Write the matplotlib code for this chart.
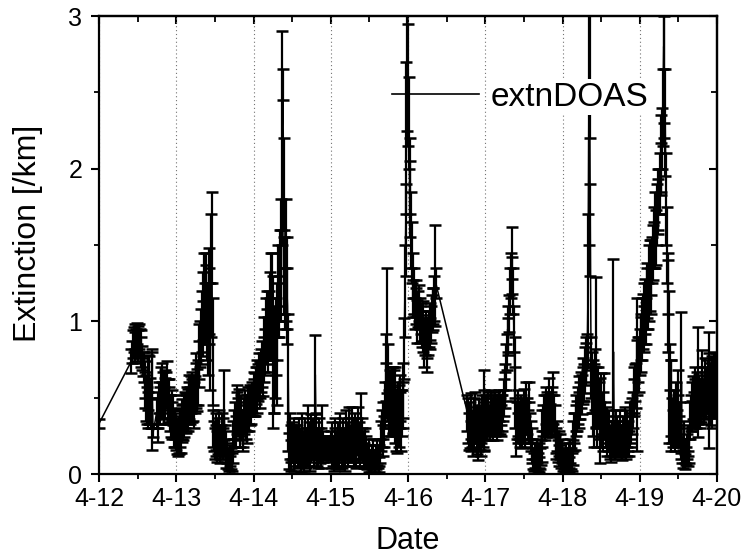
import numpy as np
import matplotlib
matplotlib.use("Agg")
import matplotlib.pyplot as plt
from matplotlib.lines import Line2D
from matplotlib.ticker import MultipleLocator

plt.rcParams['font.family'] = ['Liberation Sans', 'DejaVu Sans']

# ---------------- data ----------------
# measurement runs (days after 4-12 00:00), sampled every 0.01 day
run_start = [0.00, 0.42, 0.745, 0.76, 1.00, 2.00, 3.00, 4.00, 4.77, 5.00, 6.00, 7.00]
run_end   = [0.00, 0.70, 0.745, 0.99, 1.99, 2.99, 3.99, 4.36, 4.99, 5.99, 6.99, 8.00]
sample_step = 0.01

ext_d0 = [0.33,
          0.74, 0.80, 0.85, 0.88, 0.83, 0.90, 0.86, 0.92, 0.88, 0.84, 0.90, 0.86, 0.80, 0.85, 0.76, 0.72, 0.70, 0.62, 0.55,
          0.50, 0.45, 0.60, 0.42, 0.55, 0.48, 0.40, 0.55, 0.49, 0.27,
          0.40, 0.42, 0.35, 0.50, 0.45, 0.55, 0.48, 0.60, 0.52, 0.45, 0.58, 0.50, 0.55, 0.62, 0.48, 0.45, 0.52, 0.40, 0.38,
          0.45, 0.35, 0.42, 0.30, 0.33, 0.30]
err_d0 = [0.03,
          0.08, 0.07, 0.09, 0.08, 0.10, 0.08, 0.09, 0.07, 0.09, 0.10, 0.08, 0.09, 0.10, 0.09, 0.08, 0.08, 0.10, 0.12, 0.12,
          0.15, 0.12, 0.18, 0.12, 0.22, 0.15, 0.10, 0.25, 0.33, 0.03,
          0.10, 0.12, 0.14, 0.10, 0.12, 0.15, 0.12, 0.13, 0.15, 0.12, 0.10, 0.13, 0.12, 0.12, 0.14, 0.12, 0.10, 0.12, 0.14,
          0.10, 0.12, 0.10, 0.12, 0.10, 0.12]

ext_d1 = [0.28, 0.25, 0.22, 0.26, 0.24, 0.30, 0.28, 0.33, 0.36, 0.34, 0.38, 0.42, 0.40,
          0.40, 0.45, 0.42, 0.48, 0.50, 0.45, 0.52, 0.48, 0.55, 0.50, 0.45, 0.52, 0.58, 0.62, 0.55, 0.60, 0.72, 0.80,
          0.85, 0.90, 1.00, 0.95, 1.10, 1.20, 1.05, 1.25, 1.15, 1.00, 0.95, 1.10, 1.20, 0.90, 1.30, 1.55, 0.80,
          0.30, 0.25, 0.20, 0.28, 0.22, 0.18, 0.25, 0.30, 0.20, 0.15, 0.22, 0.28, 0.25, 0.20, 0.45, 0.22, 0.18, 0.12,
          0.15, 0.10, 0.08, 0.12, 0.06, 0.10, 0.08, 0.15,
          0.25, 0.30, 0.35, 0.28, 0.40, 0.45, 0.38, 0.42, 0.30, 0.35, 0.40, 0.32, 0.25, 0.30, 0.38, 0.42, 0.35, 0.30,
          0.40, 0.45, 0.38, 0.42, 0.48, 0.45, 0.50, 0.48]
err_d1 = [0.12, 0.12, 0.10, 0.12, 0.11, 0.12, 0.14, 0.12, 0.13, 0.12, 0.14, 0.12, 0.13,
          0.12, 0.12, 0.14, 0.12, 0.15, 0.12, 0.12, 0.14, 0.12, 0.15, 0.15, 0.12, 0.15, 0.17, 0.14, 0.15, 0.15, 0.18,
          0.15, 0.18, 0.20, 0.18, 0.22, 0.25, 0.20, 0.20, 0.22, 0.25, 0.30, 0.25, 0.28, 0.35, 0.40, 0.30, 0.35,
          0.12, 0.10, 0.10, 0.12, 0.10, 0.10, 0.12, 0.12, 0.10, 0.08, 0.10, 0.12, 0.12, 0.10, 0.23, 0.10, 0.10, 0.08,
          0.08, 0.07, 0.06, 0.07, 0.06, 0.07, 0.06, 0.08,
          0.10, 0.12, 0.12, 0.10, 0.14, 0.13, 0.12, 0.14, 0.12, 0.10, 0.12, 0.10, 0.10, 0.12, 0.12, 0.13, 0.12, 0.10,
          0.12, 0.12, 0.10, 0.10, 0.10, 0.12, 0.10, 0.10]

ext_d2 = [0.50, 0.55, 0.52, 0.58, 0.62, 0.55, 0.60, 0.65, 0.58, 0.62, 0.68, 0.72, 0.65,
          0.75, 0.85, 0.80, 0.95, 0.90, 1.00, 0.85, 1.05, 0.95, 1.10, 1.20, 1.10, 0.80, 0.70,
          0.65, 0.80, 0.90, 0.75, 1.00, 1.20, 1.10, 1.30, 1.45,
          1.30, 2.20, 2.55, 1.90, 1.30, 1.15, 1.40, 1.25, 1.10, 0.60,
          0.15, 0.25, 0.20, 0.12, 0.22, 0.18, 0.10, 0.25, 0.15, 0.20,
          0.22, 0.12, 0.18, 0.25, 0.15, 0.08, 0.20, 0.28, 0.15, 0.10,
          0.18, 0.25, 0.12, 0.20, 0.30, 0.15, 0.22, 0.10, 0.25, 0.18,
          0.20, 0.25, 0.15, 0.22, 0.65, 0.28, 0.15, 0.20, 0.12, 0.25,
          0.15, 0.20, 0.12, 0.30, 0.18, 0.15, 0.20, 0.18, 0.16, 0.20, 0.15, 0.18, 0.20, 0.16]
err_d2 = [0.12, 0.12, 0.14, 0.12, 0.13, 0.15, 0.12, 0.14, 0.15, 0.12, 0.14, 0.15, 0.14,
          0.15, 0.18, 0.15, 0.20, 0.18, 0.20, 0.18, 0.15, 0.20, 0.22, 0.25, 0.35, 0.50, 0.30,
          0.25, 0.30, 0.25, 0.30, 0.25, 0.30, 0.20, 0.30, 0.35,
          0.30, 0.70, 0.10, 0.30, 0.25, 0.20, 0.40, 0.30, 0.25, 0.45,
          0.12, 0.15, 0.12, 0.10, 0.12, 0.10, 0.08, 0.12, 0.10, 0.12,
          0.10, 0.08, 0.10, 0.12, 0.10, 0.07, 0.10, 0.12, 0.10, 0.08,
          0.10, 0.12, 0.08, 0.10, 0.15, 0.10, 0.12, 0.08, 0.14, 0.10,
          0.10, 0.12, 0.10, 0.12, 0.26, 0.12, 0.10, 0.10, 0.08, 0.12,
          0.08, 0.10, 0.08, 0.15, 0.10, 0.06, 0.05, 0.05, 0.05, 0.05, 0.05, 0.06, 0.05, 0.06]

ext_d3 = [0.18, 0.12, 0.22, 0.15, 0.08, 0.20, 0.25, 0.12, 0.18, 0.10, 0.22, 0.15, 0.28, 0.20, 0.12, 0.18, 0.25,
          0.15, 0.10, 0.20, 0.28, 0.22, 0.15, 0.30, 0.25, 0.18,
          0.22, 0.30, 0.18, 0.25, 0.15, 0.28, 0.20, 0.12, 0.25, 0.30, 0.18, 0.22, 0.15, 0.35, 0.20, 0.25, 0.18, 0.12,
          0.20, 0.15,
          0.10, 0.08, 0.12, 0.06, 0.15, 0.10, 0.05, 0.12, 0.08, 0.15, 0.10, 0.06, 0.12, 0.08, 0.14, 0.10, 0.06, 0.12, 0.15,
          0.25, 0.30, 0.22, 0.35, 0.28, 0.45, 0.55, 0.70, 0.94, 0.60, 0.40,
          0.45, 0.50, 0.40, 0.55, 0.48, 0.42, 0.50, 0.45, 0.35, 0.40, 0.32, 0.45, 0.38, 0.42, 0.50, 0.35, 0.40, 0.45, 0.55,
          0.82, 1.20, 1.60, 2.20, 2.70]
err_d3 = [0.10, 0.08, 0.12, 0.10, 0.06, 0.10, 0.12, 0.08, 0.10, 0.07, 0.12, 0.10, 0.12, 0.10, 0.08, 0.10, 0.12,
          0.10, 0.08, 0.10, 0.14, 0.12, 0.10, 0.14, 0.12, 0.10,
          0.10, 0.14, 0.10, 0.12, 0.10, 0.12, 0.10, 0.08, 0.12, 0.14, 0.10, 0.12, 0.10, 0.18, 0.10, 0.12, 0.10, 0.08,
          0.10, 0.10,
          0.06, 0.05, 0.07, 0.05, 0.08, 0.06, 0.04, 0.07, 0.05, 0.08, 0.06, 0.05, 0.07, 0.05, 0.08, 0.06, 0.05, 0.07, 0.08,
          0.10, 0.12, 0.10, 0.12, 0.10, 0.15, 0.18, 0.22, 0.41, 0.25, 0.15,
          0.15, 0.18, 0.15, 0.15, 0.22, 0.15, 0.18, 0.25, 0.20, 0.15, 0.18, 0.15, 0.20, 0.12, 0.15, 0.20, 0.15, 0.15, 0.18,
          0.20, 0.30, 0.30, 0.50, 0.45]

ext_d4 = [2.55, 2.30, 1.95, 1.80, 1.60,
          1.45, 1.30, 1.15, 1.20, 1.05, 1.10, 1.15, 1.00, 1.08, 1.12, 1.05, 0.98, 1.02, 0.95, 1.00, 0.92, 0.85, 0.90,
          0.95, 0.88, 0.82, 0.90, 0.95, 1.00, 0.92, 0.98, 1.05, 1.10, 1.08, 1.15, 1.30, 1.25,
          0.40, 0.35, 0.28, 0.32, 0.25, 0.38, 0.30, 0.22, 0.35, 0.28, 0.40, 0.32, 0.25, 0.20, 0.30, 0.35, 0.28, 0.22,
          0.32, 0.38, 0.30, 0.42, 0.35]
err_d4 = [0.40, 0.30, 0.25, 0.25, 0.25,
          0.20, 0.15, 0.12, 0.15, 0.10, 0.12, 0.12, 0.14, 0.12, 0.12, 0.10, 0.12, 0.10, 0.12, 0.13, 0.12, 0.15, 0.12,
          0.12, 0.12, 0.15, 0.12, 0.12, 0.12, 0.10, 0.12, 0.12, 0.12, 0.14, 0.15, 0.33, 0.10,
          0.12, 0.15, 0.12, 0.15, 0.10, 0.15, 0.12, 0.10, 0.15, 0.12, 0.14, 0.12, 0.12, 0.11, 0.15, 0.14, 0.12, 0.10,
          0.12, 0.14, 0.12, 0.26, 0.20]

ext_d5 = [0.35, 0.40, 0.32, 0.38, 0.42, 0.35, 0.30, 0.40, 0.45, 0.38, 0.32, 0.40, 0.35, 0.42, 0.38, 0.30, 0.36,
          0.40, 0.45, 0.38, 0.42, 0.35, 0.40, 0.45, 0.50, 0.55,
          0.60, 0.70, 0.80, 0.95, 0.90, 1.05, 1.20, 1.30, 1.45, 1.30, 1.20,
          0.95, 0.70, 0.50, 0.30, 0.35, 0.40,
          0.30, 0.35, 0.28, 0.40, 0.32, 0.38, 0.30, 0.42, 0.35, 0.28, 0.45, 0.38, 0.32, 0.40, 0.35, 0.30, 0.25, 0.20,
          0.15, 0.10, 0.08, 0.12, 0.05, 0.10, 0.15, 0.08, 0.12, 0.06, 0.10, 0.14, 0.18,
          0.30, 0.35, 0.40, 0.32, 0.45, 0.38, 0.42, 0.35, 0.48, 0.40, 0.36, 0.42, 0.38, 0.45, 0.50, 0.40, 0.35,
          0.22, 0.18, 0.25, 0.15, 0.20, 0.12, 0.18, 0.10, 0.15]
err_d5 = [0.12, 0.12, 0.10, 0.12, 0.12, 0.10, 0.08, 0.12, 0.10, 0.12, 0.10, 0.12, 0.10, 0.12, 0.12, 0.08, 0.10,
          0.12, 0.10, 0.12, 0.10, 0.10, 0.12, 0.10, 0.12, 0.12,
          0.12, 0.15, 0.12, 0.15, 0.12, 0.12, 0.15, 0.15, 0.17, 0.12, 0.15,
          0.15, 0.20, 0.20, 0.18, 0.12, 0.15,
          0.10, 0.12, 0.10, 0.12, 0.15, 0.12, 0.10, 0.14, 0.12, 0.10, 0.15, 0.12, 0.10, 0.20, 0.12, 0.10, 0.10, 0.10,
          0.08, 0.07, 0.06, 0.08, 0.05, 0.07, 0.08, 0.06, 0.08, 0.05, 0.07, 0.08, 0.10,
          0.12, 0.10, 0.12, 0.10, 0.12, 0.14, 0.12, 0.10, 0.15, 0.12, 0.10, 0.12, 0.14, 0.12, 0.17, 0.12, 0.10,
          0.08, 0.08, 0.10, 0.07, 0.08, 0.07, 0.08, 0.06, 0.08]

ext_d6 = [0.08, 0.05, 0.10, 0.06, 0.12, 0.08, 0.04, 0.10, 0.06, 0.12, 0.15, 0.10, 0.08, 0.14,
          0.25, 0.30, 0.28, 0.35, 0.40, 0.38, 0.45, 0.42, 0.50, 0.48, 0.55, 0.52, 0.58, 0.62, 0.60, 0.68, 0.72, 0.75, 0.80,
          1.20, 2.30, 2.80, 1.60,
          0.70, 0.60, 0.50, 0.55, 0.45, 0.62, 0.80, 0.50, 0.40, 0.55, 0.45, 0.35,
          0.35, 0.45, 0.30, 0.40, 0.25, 0.50, 0.35, 0.28, 0.20, 0.32, 0.25, 0.30, 0.18, 0.22, 0.15, 0.25, 0.20, 0.80,
          0.25, 0.18, 0.30, 0.22, 0.28,
          0.20, 0.25, 0.18, 0.30, 0.22, 0.15, 0.28, 0.20, 0.25, 0.32, 0.18, 0.22, 0.30, 0.25, 0.20, 0.28, 0.35, 0.30,
          0.38, 0.42,
          0.50, 0.55, 0.60, 0.58, 0.70, 0.65, 0.75, 0.72]
err_d6 = [0.06, 0.05, 0.07, 0.05, 0.08, 0.06, 0.04, 0.07, 0.05, 0.08, 0.08, 0.07, 0.06, 0.08,
          0.10, 0.10, 0.12, 0.10, 0.12, 0.10, 0.12, 0.12, 0.14, 0.12, 0.12, 0.13, 0.12, 0.14, 0.12, 0.15, 0.14, 0.15, 0.12,
          0.50, 0.80, 0.60, 0.30,
          0.20, 0.20, 0.25, 0.15, 0.27, 0.20, 0.49, 0.20, 0.22, 0.15, 0.15, 0.28,
          0.12, 0.21, 0.12, 0.14, 0.10, 0.16, 0.12, 0.10, 0.08, 0.12, 0.10, 0.12, 0.08, 0.10, 0.07, 0.10, 0.08, 0.61,
          0.10, 0.08, 0.12, 0.10, 0.10,
          0.08, 0.10, 0.07, 0.12, 0.10, 0.06, 0.10, 0.08, 0.10, 0.12, 0.08, 0.10, 0.12, 0.10, 0.08, 0.10, 0.12, 0.10,
          0.12, 0.12,
          0.12, 0.15, 0.12, 0.15, 0.18, 0.50, 0.15, 0.18]

ext_d7 = [0.80, 0.85, 0.90, 0.95, 1.00, 0.95, 1.05, 1.10, 1.00, 1.15, 1.20, 1.10, 1.25, 1.30, 1.20, 1.35,
          1.40, 1.45, 1.50, 1.55, 1.60, 1.55, 1.70, 1.75, 1.80, 1.85, 1.90, 2.00, 2.10, 2.20, 2.40,
          2.80, 2.60, 2.30,
          1.80, 1.50, 1.25, 1.10, 0.70, 0.70, 0.50, 0.45, 0.35,
          0.30, 0.40, 0.25, 0.35, 0.45, 0.30, 0.50, 0.38, 0.28, 0.35,
          0.20, 0.60, 0.15, 0.10, 0.25, 0.08, 0.15, 0.12, 0.18, 0.10, 0.22, 0.15,
          0.35, 0.40, 0.45, 0.38, 0.50, 0.42, 0.55, 0.48, 0.40, 0.52, 0.45, 0.60, 0.50, 0.42, 0.48, 0.55, 0.62, 0.50,
          0.45, 0.52, 0.58, 0.50, 0.55,
          0.60, 0.55, 0.65, 0.58, 0.50, 0.62, 0.45, 0.55, 0.68, 0.60, 0.52, 0.65, 0.58]
err_d7 = [0.15, 0.18, 0.15, 0.20, 0.18, 0.15, 0.20, 0.18, 0.15, 0.20, 0.18, 0.15, 0.25, 0.23, 0.15, 0.18,
          0.15, 0.18, 0.15, 0.20, 0.25, 0.18, 0.20, 0.18, 0.20, 0.15, 0.20, 0.17, 0.25, 0.20, 0.25,
          0.50, 0.40, 0.35,
          0.30, 0.25, 0.20, 0.30, 0.50, 0.15, 0.25, 0.30, 0.15,
          0.12, 0.15, 0.10, 0.12, 0.15, 0.12, 0.18, 0.14, 0.10, 0.12,
          0.10, 0.46, 0.08, 0.06, 0.10, 0.05, 0.08, 0.06, 0.08, 0.05, 0.10, 0.08,
          0.12, 0.12, 0.15, 0.10, 0.14, 0.12, 0.15, 0.14, 0.10, 0.15, 0.12, 0.36, 0.15, 0.12, 0.14, 0.15, 0.19, 0.12,
          0.12, 0.15, 0.18, 0.14, 0.15,
          0.15, 0.38, 0.14, 0.15, 0.18, 0.15, 0.15, 0.18, 0.12, 0.16, 0.15, 0.14, 0.15]

date_ticks = [0, 1, 2, 3, 4, 5, 6, 7, 8]
date_labels = ['4-12', '4-13', '4-14', '4-15', '4-16', '4-17', '4-18', '4-19', '4-20']
y_ticks = [0, 1, 2, 3]
series_name = 'extnDOAS'

# ---------------- assemble ----------------
t = np.concatenate([np.round(np.arange(s, e + sample_step / 2, sample_step), 3)
                    for s, e in zip(run_start, run_end)])
ext = np.array(ext_d0 + ext_d1 + ext_d2 + ext_d3 + ext_d4 + ext_d5 + ext_d6 + ext_d7)
err = np.array(err_d0 + err_d1 + err_d2 + err_d3 + err_d4 + err_d5 + err_d6 + err_d7)
assert len(ext) == len(err), (len(ext), len(err))
assert len(t) == len(ext), (len(t), len(ext))

# ---------------- figure ----------------
fig = plt.figure(figsize=(7.45, 5.58), dpi=100)
ax = fig.add_axes([99 / 745, 84 / 558, 618 / 745, 458 / 558])

ax.errorbar(t, ext, yerr=err, color='black', lw=1.1, elinewidth=1.6,
            capsize=4, capthick=1.8, zorder=3, clip_on=True)

ax.set_xlim(0, 8)
ax.set_ylim(0, 3)
ax.set_xticks(date_ticks)
ax.set_xticklabels(date_labels)
ax.set_yticks(y_ticks)
ax.set_yticklabels([str(v) for v in y_ticks])
ax.xaxis.set_minor_locator(MultipleLocator(0.5))
ax.yaxis.set_minor_locator(MultipleLocator(0.5))

ax.grid(axis='x', which='major', linestyle=(0, (1, 2.5)), color='0.45', lw=0.8, zorder=0)
ax.set_axisbelow(True)

for sp in ax.spines.values():
    sp.set_linewidth(1.6)
ax.tick_params(which='major', direction='out', length=6, width=1.5,
               labelsize=18, pad=3)
ax.tick_params(axis='y', which='major', pad=6)
ax.tick_params(which='minor', direction='out', length=3.5, width=1.3)

# inward ticks on top and right
secx = ax.secondary_xaxis('top')
secx.set_xticks(date_ticks)
secx.xaxis.set_minor_locator(MultipleLocator(0.5))
secx.tick_params(which='major', direction='in', length=6, width=1.5, labeltop=False)
secx.tick_params(which='minor', direction='in', length=4, width=1.3)
secx.spines['top'].set_linewidth(1.6)
secy = ax.secondary_yaxis('right')
secy.set_yticks(y_ticks)
secy.yaxis.set_minor_locator(MultipleLocator(0.5))
secy.tick_params(which='major', direction='in', length=6, width=1.5, labelright=False)
secy.tick_params(which='minor', direction='in', length=4, width=1.3)
secy.spines['right'].set_linewidth(1.6)

ax.set_xlabel('Date', fontsize=22)
ax.xaxis.set_label_coords(0.5, -0.113)
ax.set_ylabel('Extinction [/km]', fontsize=23)
ax.yaxis.set_label_coords(-0.09, 0.525)

handle = Line2D([], [], color='black', lw=1.2)
leg = ax.legend([handle], [series_name], loc='center left',
                bbox_to_anchor=(0.474, 0.823), frameon=False, borderpad=0,
                borderaxespad=0, handlelength=2.6, handletextpad=0.35, fontsize=24)
leg.set_zorder(10)
for txt in leg.get_texts():
    txt.set_bbox(dict(facecolor='white', edgecolor='none', pad=2))

fig.savefig('out.png', dpi=100)
